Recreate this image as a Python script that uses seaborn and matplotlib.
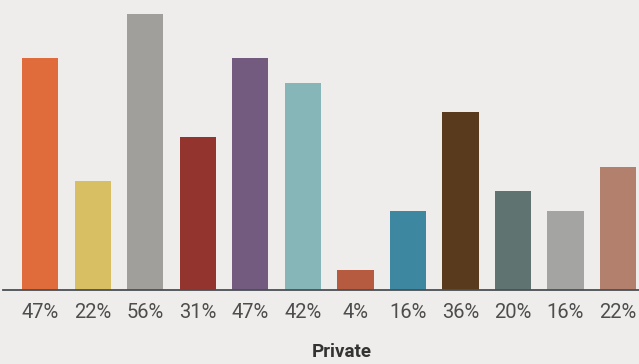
import matplotlib
matplotlib.use("Agg")
import matplotlib.pyplot as plt
import seaborn as sns
import pandas as pd

categories = ["A", "B", "C", "D", "E", "F", "G", "H", "I", "J", "K", "L"]
values = [47, 22, 56, 31, 47, 42, 4, 16, 36, 20, 16, 25]
labels = ["47%", "22%", "56%", "31%", "47%", "42%", "4%", "16%", "36%", "20%", "16%", "22%"]
colors = ["#e06c3c", "#d8bf63", "#a09f9b", "#94342e", "#735b80", "#87b6b9",
          "#b65a40", "#3e87a0", "#5a3a1d", "#5f7370", "#a4a4a2", "#b2806d"]
title = "Private"

df = pd.DataFrame({"cat": categories, "val": values})

sns.set_theme(style="white")
plt.rcParams["font.family"] = ["Roboto", "DejaVu Sans"]

bg = "#eeedeb"
fig = plt.figure(figsize=(6.39, 3.64), dpi=100, facecolor=bg)
ax = fig.add_axes([3 / 639, 74 / 364, 636 / 639, 290 / 364])
ax.set_facecolor(bg)

sns.barplot(data=df, x="cat", y="val", hue="cat", palette=colors,
            width=0.686, legend=False, ax=ax, saturation=1, linewidth=0)

ax.set_xlim(-0.714, 11.40)
ax.set_ylim(0, 58.8)
ax.set_xticks(range(len(labels)))
ax.set_xticklabels(labels, fontsize=14.5, color="#4d4d4d")
ax.tick_params(axis="x", length=0, pad=9)
ax.set_yticks([])
ax.set_xlabel(title, fontsize=13.5, fontweight="bold", color="#333333")
ax.xaxis.set_label_coords(0.533, -0.214)
ax.xaxis.label.set_va("center")
ax.set_ylabel("")
for s in ["top", "right", "left"]:
    ax.spines[s].set_visible(False)
ax.spines["bottom"].set_color("#4a4f55")
ax.spines["bottom"].set_linewidth(1.3)

fig.savefig("out.png", dpi=100, facecolor=bg)
